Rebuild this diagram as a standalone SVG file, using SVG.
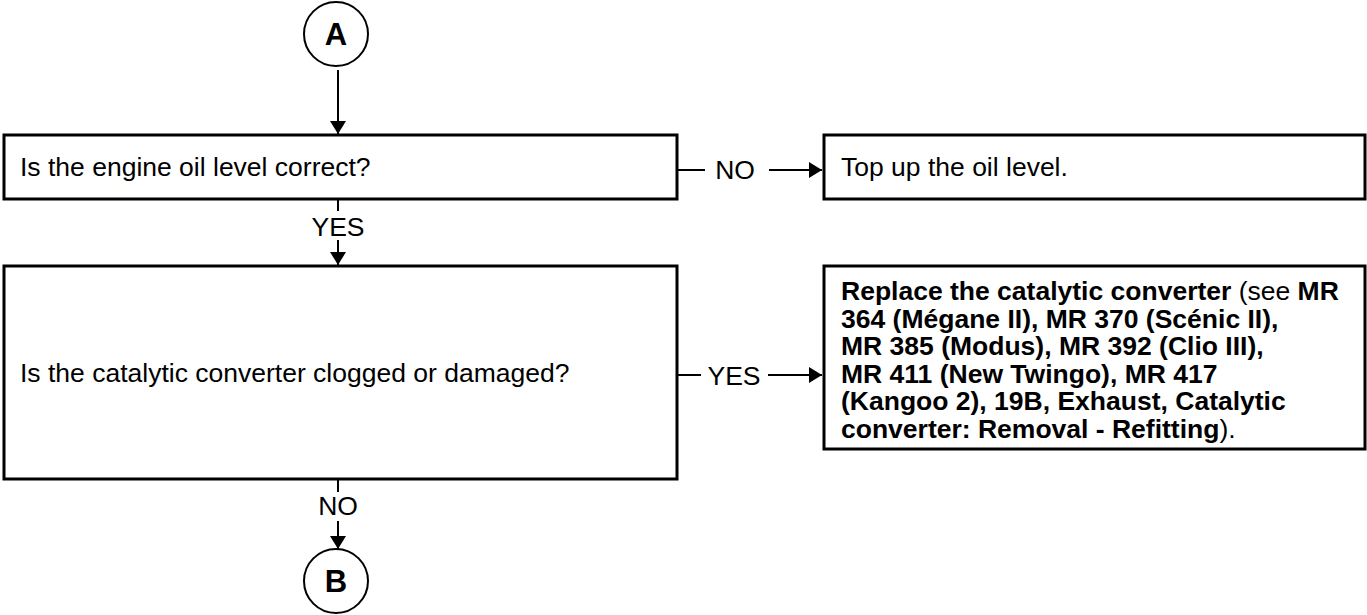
<svg xmlns="http://www.w3.org/2000/svg" width="1367" height="615" viewBox="0 0 1367 615">
  <style>
    .box { fill: #fff; stroke: #000; stroke-width: 3; }
    .term { fill: #fff; stroke: #000; stroke-width: 2; }
    .line { stroke: #000; stroke-width: 2; fill: none; }
    .txt { font-family: "Liberation Sans", Arial, sans-serif; font-size: 26.5px; fill: #000; }
    .b { font-weight: bold; }
    .term-txt { font-family: "Liberation Sans", Arial, sans-serif; font-size: 31px; font-weight: bold; text-anchor: middle; }
    .lbl { font-family: "Liberation Sans", Arial, sans-serif; font-size: 26.5px; text-anchor: middle; }
  </style>
  <defs>
    <!-- solid triangular arrowhead, tip on the line end -->
    <marker id="arrow" viewBox="0 0 13 16" refX="13" refY="8" markerWidth="13" markerHeight="16" markerUnits="userSpaceOnUse" orient="auto">
      <path d="M0,0 L13,8 L0,16 z" fill="#000"/>
    </marker>
  </defs>

  <!-- connectors -->
  <g id="connectors">
    <line class="line" x1="338" y1="70" x2="338" y2="134" marker-end="url(#arrow)"/>
    <line class="line" x1="677" y1="170" x2="705" y2="170"/>
    <text class="lbl" x="735" y="179">NO</text>
    <line class="line" x1="769" y1="170" x2="822" y2="170" marker-end="url(#arrow)"/>
    <line class="line" x1="338" y1="199" x2="338" y2="211"/>
    <text class="lbl" x="338" y="236">YES</text>
    <line class="line" x1="338" y1="240" x2="338" y2="265" marker-end="url(#arrow)"/>
    <line class="line" x1="677" y1="375" x2="701" y2="375"/>
    <text class="lbl" x="734" y="385">YES</text>
    <line class="line" x1="768" y1="375" x2="822" y2="375" marker-end="url(#arrow)"/>
    <line class="line" x1="338" y1="479" x2="338" y2="492"/>
    <text class="lbl" x="338" y="515">NO</text>
    <line class="line" x1="338" y1="521" x2="338" y2="549" marker-end="url(#arrow)"/>
  </g>

  <g id="start-a">
    <circle class="term" cx="336" cy="34" r="32"/>
    <text class="term-txt" x="336" y="45">A</text>
  </g>

  <g id="check-oil">
    <rect class="box" x="4" y="135" width="673" height="64"/>
    <text class="txt" x="20" y="176">Is the engine oil level correct?</text>
  </g>

  <g id="top-up">
    <rect class="box" x="824" y="135" width="541" height="64"/>
    <text class="txt" x="841" y="176">Top up the oil level.</text>
  </g>

  <g id="check-cat">
    <rect class="box" x="4" y="266" width="673" height="213"/>
    <text class="txt" x="20" y="382">Is the catalytic converter clogged or damaged?</text>
  </g>

  <g id="replace-cat">
    <rect class="box" x="824" y="266" width="541" height="183"/>
    <text class="txt">
      <tspan x="841" y="300"><tspan class="b">Replace the catalytic converter</tspan> (see <tspan class="b">MR</tspan></tspan>
      <tspan class="b" x="841" y="327.5">364 (Mégane II), MR 370 (Scénic II),</tspan>
      <tspan class="b" x="841" y="355">MR 385 (Modus), MR 392 (Clio III),</tspan>
      <tspan class="b" x="841" y="382.5">MR 411 (New Twingo), MR 417</tspan>
      <tspan class="b" x="841" y="410">(Kangoo 2), 19B, Exhaust, Catalytic</tspan>
      <tspan x="841" y="437.5"><tspan class="b">converter: Removal - Refitting</tspan>).</tspan>
    </text>
  </g>

  <g id="end-b">
    <circle class="term" cx="336" cy="581" r="32"/>
    <text class="term-txt" x="336" y="592">B</text>
  </g>
</svg>
